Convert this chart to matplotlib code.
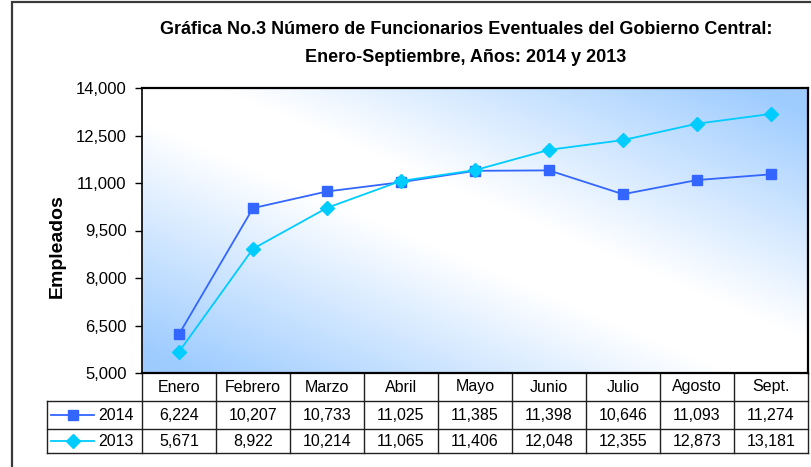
import matplotlib
matplotlib.use('Agg')
import matplotlib.pyplot as plt
import numpy as np
from matplotlib.lines import Line2D
from matplotlib.patches import Rectangle
import matplotlib.transforms as mtransforms

# datos
meses = ['Enero', 'Febrero', 'Marzo', 'Abril', 'Mayo', 'Junio', 'Julio', 'Agosto', 'Sept.']
serie_2014 = [6224, 10207, 10733, 11025, 11385, 11398, 10646, 11093, 11274]
serie_2013 = [5671, 8922, 10214, 11065, 11406, 12048, 12355, 12873, 13181]
etiquetas = ['2014', '2013']
yticks = [5000, 6500, 8000, 9500, 11000, 12500, 14000]

plt.rcParams['font.family'] = ['Liberation Sans', 'DejaVu Sans']

W, H = 812, 467
fig = plt.figure(figsize=(W / 100, H / 100), dpi=100)

def fx(px):
    return px / W

def fy(py):
    return 1 - py / H

# marco exterior
fig.patches.append(Rectangle((fx(12), fy(470)), fx(806), fy(2) - fy(470),
                             transform=fig.transFigure, fill=False,
                             edgecolor='#3a3a3a', linewidth=1.6))

# area del grafico
left, right, top, bottom = 142, 808, 88, 373
ax = fig.add_axes([fx(left), fy(bottom), fx(right - left), fy(top) - fy(bottom)])

# fondo degradado
n = 300
u, v = np.meshgrid(np.linspace(0, 1, n), np.linspace(0, 1, n))
d = np.abs(u + v - 1)
f = np.clip((d - 0.12) / 0.8, 0, 1)
azul = np.array([158, 204, 255]) / 255.0
img = (1 - f[..., None]) * np.ones(3) + f[..., None] * azul
ax.imshow(img, extent=[0, 1, 0, 1], origin='lower', transform=ax.transAxes,
          aspect='auto', zorder=0, interpolation='bilinear')

x = np.arange(len(meses))
ax.plot(x, serie_2014, color='#3366FF', marker='s', markersize=7.5, linewidth=1.3,
        markeredgecolor='#3366FF', zorder=3)
ax.plot(x, serie_2013, color='#00CCFF', marker='D', markersize=7, linewidth=1.3,
        markeredgecolor='#00CCFF', zorder=4)

ax.set_xlim(-0.5, len(meses) - 0.5)
ax.set_ylim(5000, 14000)
ax.set_yticks(yticks)
ax.set_yticklabels([f'{t:,}' for t in yticks], fontsize=12)
ax.set_xticks([])
ax.tick_params(axis='y', direction='out', length=5, width=1, pad=6, colors='black')
for s in ax.spines.values():
    s.set_color('black')
    s.set_linewidth(1.6)
ax.spines['left'].set_linewidth(1.2)

# etiqueta del eje y
fig.text(fx(57), fy(246), 'Empleados', rotation=90, ha='center', va='center',
         fontsize=14, fontweight='bold')

# titulo
fig.text(fx(466), fy(30), 'Gráfica No.3 Número de Funcionarios Eventuales del Gobierno Central:',
         ha='center', va='center', fontsize=13, fontweight='bold')
fig.text(fx(466), fy(57), 'Enero-Septiembre, Años: 2014 y 2013',
         ha='center', va='center', fontsize=13, fontweight='bold')

# tabla de datos
trans = mtransforms.blended_transform_factory(ax.transData, ax.transAxes)
hgt = bottom - top
y_rows = [0, -28 / hgt, -56 / hgt, -80 / hgt]
x_leg = (47 - left) / (right - left)
lc = '#202020'

for i in range(len(meses) + 1):
    ax.add_line(Line2D([i - 0.5, i - 0.5], [0, y_rows[3]], transform=trans,
                       color=lc, linewidth=1, clip_on=False))
for yy in y_rows[1:]:
    ax.add_line(Line2D([x_leg, 1], [yy, yy], transform=ax.transAxes,
                       color=lc, linewidth=1, clip_on=False))
ax.add_line(Line2D([x_leg, x_leg], [y_rows[1], y_rows[3]], transform=ax.transAxes,
                   color=lc, linewidth=1, clip_on=False))

for i, m in enumerate(meses):
    ax.text(i, (y_rows[0] + y_rows[1]) / 2, m, transform=trans, ha='center',
            va='center', fontsize=11.5, clip_on=False)
    ax.text(i, (y_rows[1] + y_rows[2]) / 2, f'{serie_2014[i]:,}', transform=trans,
            ha='center', va='center', fontsize=11.5, clip_on=False)
    ax.text(i, (y_rows[2] + y_rows[3]) / 2, f'{serie_2013[i]:,}', transform=trans,
            ha='center', va='center', fontsize=11.5, clip_on=False)

# leyenda dentro de la tabla
estilos = [('#3366FF', 's', 7.5), ('#00CCFF', 'D', 7)]
for k, (col, mk, ms) in enumerate(estilos):
    yc = (y_rows[k + 1] + y_rows[k + 2]) / 2
    x0 = (51 - left) / (right - left)
    x1 = (94 - left) / (right - left)
    ax.add_line(Line2D([x0, x1], [yc, yc], transform=ax.transAxes, color=col,
                       linewidth=1.3, clip_on=False))
    ax.add_line(Line2D([(x0 + x1) / 2], [yc], transform=ax.transAxes, color=col,
                       marker=mk, markersize=ms, markeredgecolor=col, clip_on=False))
    ax.text((98 - left) / (right - left), yc, etiquetas[k], transform=ax.transAxes,
            ha='left', va='center', fontsize=11.5, clip_on=False)

fig.savefig('out.png', dpi=100)
